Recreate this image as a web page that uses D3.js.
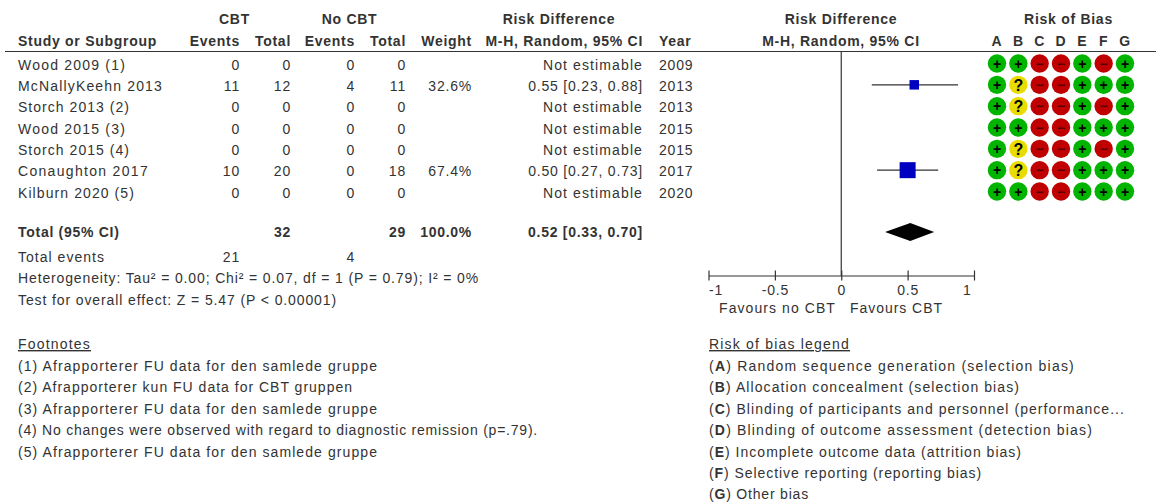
<!DOCTYPE html>
<html>
<head>
<meta charset="utf-8">
<script src="https://cdn.jsdelivr.net/npm/d3@7"></script>
<style>
body { margin: 0; background: #fff; }
svg { display: block; }
text { font-family: "Liberation Sans", Arial, sans-serif; font-size: 14px; fill: #333; letter-spacing: 0.8px; }
.b { font-weight: bold; letter-spacing: 0.72px; }
</style>
</head>
<body>
<div id="chart"></div>
<script>
// forest plot data
var studies = ["Wood 2009 (1)", "McNallyKeehn 2013", "Storch 2013 (2)", "Wood 2015 (3)", "Storch 2015 (4)", "Conaughton 2017", "Kilburn 2020 (5)"];
var cbtEvents = [0, 11, 0, 0, 0, 10, 0];
var cbtTotal = [0, 12, 0, 0, 0, 20, 0];
var noEvents = [0, 4, 0, 0, 0, 0, 0];
var noTotal = [0, 11, 0, 0, 0, 18, 0];
var weights = ["", "32.6%", "", "", "", "67.4%", ""];
var weightValues = [null, 32.6, null, null, null, 67.4, null];
var years = [2009, 2013, 2013, 2015, 2015, 2017, 2020];
var mean = [null, 0.55, null, null, null, 0.50, null];
var lower = [null, 0.23, null, null, null, 0.27, null];
var upper = [null, 0.88, null, null, null, 0.73, null];
var totalCI = [0.33, 0.52, 0.70];
var axisTicks = [-1, -0.5, 0, 0.5, 1];

var domains = ["A", "B", "C", "D", "E", "F", "G"];
var bias = ["++--+-+", "+?--+++", "+?--+-+", "++--+++", "+?--+-+", "+?--+++", "++--+++"];

var footnotes = [
    "(1) Afrapporterer FU data for den samlede gruppe",
    "(2) Afrapporterer kun FU data for CBT gruppen",
    "(3) Afrapporterer FU data for den samlede gruppe",
    "(4) No changes were observed with regard to diagnostic remission (p=.79).",
    "(5) Afrapporterer FU data for den samlede gruppe"
];
var legendLetters = ["A", "B", "C", "D", "E", "F", "G"];
var legendText = [
    "Random sequence generation (selection bias)",
    "Allocation concealment (selection bias)",
    "Blinding of participants and personnel (performance...",
    "Blinding of outcome assessment (detection bias)",
    "Incomplete outcome data (attrition bias)",
    "Selective reporting (reporting bias)",
    "Other bias"
];

// widths of the text lines in the reference, the fonts don't run the same
var studyWidths = [108, 145, 112, 108, 112, 131, 117];
var footnoteWidths = [360, 335, 360, 520, 360];
var legendWidths = [366, 311, 416, 384, 313, 273, 100];

var svg = d3.select("#chart").append("svg")
    .attr("width", 1156)
    .attr("height", 503);

function label(x, y, str, anchor, bold) {
    return svg.append("text")
        .attr("x", x)
        .attr("y", y)
        .attr("text-anchor", anchor || "start")
        .classed("b", !!bold)
        .text(str);
}

// sets the letter spacing so the line comes out at the given width
function fit(sel, width) {
    var parts = sel.selectAll("tspan");
    sel.style("letter-spacing", "0px");
    parts.style("letter-spacing", "0px");
    var natural = sel.node().getComputedTextLength();
    var spacing = (width - natural) / sel.node().getNumberOfChars();
    sel.style("letter-spacing", spacing + "px");
    parts.style("letter-spacing", spacing + "px");
    return sel;
}

// scales
var rowY = d3.scalePoint().domain(d3.range(studies.length)).range([69.5, 197.5]);
var markY = d3.scalePoint().domain(d3.range(studies.length)).range([63.5, 191.5]);
var x = d3.scaleLinear().domain([-1, 1]).range([708.5, 974]);
var size = d3.scaleLinear().domain([32.6, 67.4]).range([9.5, 16]);
var biasX = d3.scalePoint().domain(domains).range([997, 1125]);
var biasColor = { "+": "#00b400", "?": "#e8dc00", "-": "#c00000" };

// headers
label(234.5, 24, "CBT", "middle", true);
label(349.5, 24, "No CBT", "middle", true);
label(559, 24, "Risk Difference", "middle", true);
label(841, 24, "Risk Difference", "middle", true);
label(1068.5, 24, "Risk of Bias", "middle", true);
label(18, 46, "Study or Subgroup", "start", true);
label(240, 46, "Events", "end", true);
label(291, 46, "Total", "end", true);
label(355, 46, "Events", "end", true);
label(406, 46, "Total", "end", true);
label(472, 46, "Weight", "end", true);
label(643, 46, "M-H, Random, 95% CI", "end", true);
label(659, 46, "Year", "start", true);
label(841, 46, "M-H, Random, 95% CI", "middle", true);
domains.forEach(function(d) { label(biasX(d), 46, d, "middle", true); });

svg.append("line")
    .attr("x1", 5).attr("x2", 1156)
    .attr("y1", 51.5).attr("y2", 51.5)
    .attr("stroke", "#333").attr("stroke-width", 1.2);

// study rows
studies.forEach(function(s, i) {
    var y = rowY(i);
    fit(label(18, y, s), studyWidths[i]);
    label(240, y, cbtEvents[i], "end");
    label(291, y, cbtTotal[i], "end");
    label(355, y, noEvents[i], "end");
    label(406, y, noTotal[i], "end");
    label(472, y, weights[i], "end");
    if (mean[i] === null) {
        fit(label(643, y, "Not estimable", "end"), 100);
    } else {
        label(643, y, mean[i].toFixed(2) + " [" + lower[i].toFixed(2) + ", " + upper[i].toFixed(2) + "]", "end");
    }
    label(659, y, years[i]);
});

// totals
label(18, 237, "Total (95% CI)", "start", true);
label(291, 237, d3.sum(cbtTotal), "end", true);
label(406, 237, d3.sum(noTotal), "end", true);
label(472, 237, "100.0%", "end", true);
label(643, 237, totalCI[1].toFixed(2) + " [" + totalCI[0].toFixed(2) + ", " + totalCI[2].toFixed(2) + "]", "end", true);
fit(label(18, 262, "Total events"), 87);
label(240, 262, d3.sum(cbtEvents), "end");
label(355, 262, d3.sum(noEvents), "end");
fit(label(18, 283, "Heterogeneity: Tau\u00b2 = 0.00; Chi\u00b2 = 0.07, df = 1 (P = 0.79); I\u00b2 = 0%"), 461);
fit(label(18, 305, "Test for overall effect: Z = 5.47 (P < 0.00001)"), 319);

// zero line
svg.append("line")
    .attr("x1", x(0)).attr("x2", x(0))
    .attr("y1", 52).attr("y2", 276)
    .attr("stroke", "#333").attr("stroke-width", 1.2);

// CI lines and squares
var plotted = d3.range(studies.length).filter(function(i) { return mean[i] !== null; });
svg.selectAll(".ci").data(plotted).enter().append("line")
    .attr("class", "ci")
    .attr("x1", function(i) { return x(lower[i]); })
    .attr("x2", function(i) { return x(upper[i]); })
    .attr("y1", function(i) { return markY(i); })
    .attr("y2", function(i) { return markY(i); })
    .attr("stroke", "#333").attr("stroke-width", 1.2);
svg.selectAll(".sq").data(plotted).enter().append("rect")
    .attr("class", "sq")
    .attr("x", function(i) { return x(mean[i]) - size(weightValues[i]) / 2; })
    .attr("y", function(i) { return markY(i) - size(weightValues[i]) / 2; })
    .attr("width", function(i) { return size(weightValues[i]); })
    .attr("height", function(i) { return size(weightValues[i]); })
    .attr("fill", "#0000c0");

// total diamond
svg.append("path")
    .attr("d", d3.line()([[x(totalCI[0]), 232], [x(totalCI[1]), 223], [x(totalCI[2]), 232], [x(totalCI[1]), 241]]) + "Z")
    .attr("fill", "#000");

// axis
var axisG = svg.append("g")
    .attr("transform", "translate(0,275.5)")
    .call(d3.axisBottom(x).tickValues(axisTicks).tickFormat(function(d) { return String(d); }).tickSizeOuter(0));
axisG.attr("font-family", null).attr("font-size", null);
axisG.select(".domain").attr("stroke", "#333").attr("stroke-width", 1.2);
axisG.selectAll(".tick line").attr("y1", -5).attr("y2", 5).attr("stroke", "#333").attr("stroke-width", 1.2);
axisG.selectAll(".tick text").attr("fill", null).attr("dy", null).attr("y", 19);
// end labels sit inside the axis
axisG.selectAll(".tick text").filter(function(d) { return d === -1; }).attr("text-anchor", "start");
axisG.selectAll(".tick text").filter(function(d) { return d === 1; }).attr("text-anchor", "end").attr("x", -3);

fit(label(836, 313, "Favours no CBT", "end"), 117);
fit(label(850, 313, "Favours CBT", "start"), 93);

// risk of bias circles
bias.forEach(function(row, r) {
    row.split("").forEach(function(v, c) {
        var cx = biasX(domains[c]);
        var cy = markY(r);
        svg.append("circle")
            .attr("cx", cx).attr("cy", cy).attr("r", 9.2)
            .attr("fill", biasColor[v]);
        svg.append("text")
            .attr("x", cx)
            .attr("y", cy + (v === "?" ? 6 : 5))
            .attr("text-anchor", "middle")
            .style("font-weight", "bold")
            .style("letter-spacing", "0")
            .style("font-size", v === "?" ? "16px" : "14px")
            .style("fill", v === "-" ? "#5a0000" : "#000")
            .text(v === "-" ? "\u2212" : v);
    });
});

// footnotes
fit(label(18, 349, "Footnotes"), 73).attr("text-decoration", "underline");
footnotes.forEach(function(f, i) {
    fit(label(18, 371 + i * 21.4, f), footnoteWidths[i]);
});

// risk of bias legend
fit(label(709, 349, "Risk of bias legend"), 141).attr("text-decoration", "underline");
legendText.forEach(function(t, i) {
    var row = label(709, 371 + i * 21.4, "(");
    row.append("tspan").attr("class", "b").text(legendLetters[i]);
    row.append("tspan").text(") " + t);
    fit(row, legendWidths[i]);
});
</script>
</body>
</html>
